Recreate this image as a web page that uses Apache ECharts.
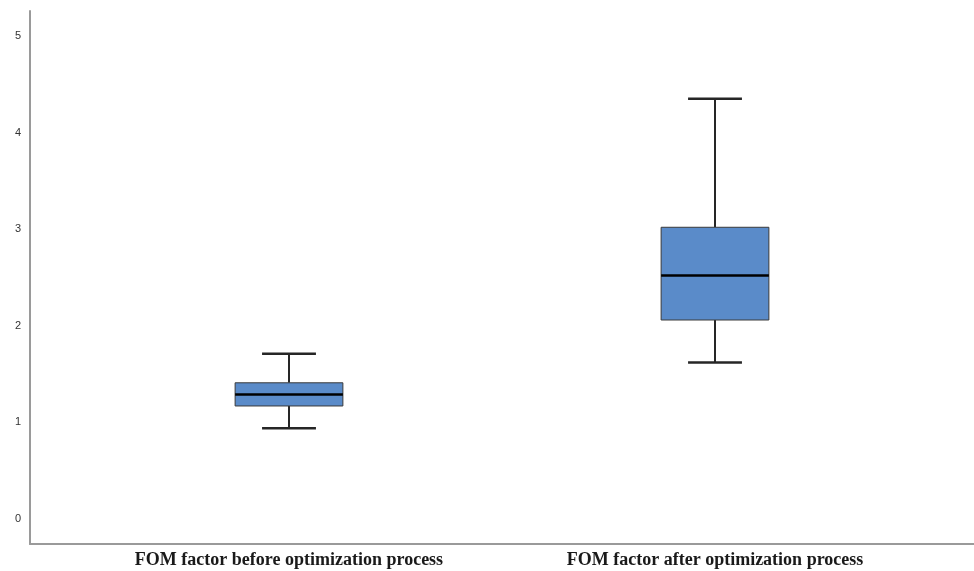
<!DOCTYPE html>
<html>
<head>
<meta charset="utf-8">
<style>html,body{margin:0;padding:0;background:#fff;}#main{width:974px;height:571px;}</style>
<script src="https://cdn.jsdelivr.net/npm/echarts@6/dist/echarts.min.js"></script>
</head>
<body>
<div id="main"></div>
<script>
var categories = ['FOM factor before optimization process', 'FOM factor after optimization process'];
var minValues = [0.94, 1.62];
var q1Values = [1.17, 2.06];
var medianValues = [1.29, 2.52];
var q3Values = [1.41, 3.02];
var maxValues = [1.71, 4.35];
var yTicks = [0, 1, 2, 3, 4, 5];

var data = categories.map(function (c, i) {
  return [i, minValues[i], q1Values[i], medianValues[i], q3Values[i], maxValues[i]];
});

var chart = echarts.init(document.getElementById('main'));
chart.setOption({
  animation: false,
  backgroundColor: '#ffffff',
  grid: [
    { left: 30, right: 0, top: 11, bottom: 27 },
    { left: 76, right: 46, top: 36, bottom: 52 }
  ],
  xAxis: [
    { gridIndex: 0, type: 'category', data: ['', ''], axisLine: { lineStyle: { color: '#9a9a9a', width: 2 } },
      axisTick: { show: false }, axisLabel: { show: false }, splitLine: { show: false } },
    { gridIndex: 1, type: 'category', data: categories, offset: 25,
      axisLine: { show: false }, axisTick: { show: false }, splitLine: { show: false },
      axisLabel: { margin: 7, fontFamily: 'Liberation Serif', fontWeight: 'bold', fontSize: 18, color: '#1a1a1a' } }
  ],
  yAxis: [
    { gridIndex: 0, type: 'value', min: 0, max: 1, axisLine: { show: true, lineStyle: { color: '#9a9a9a', width: 2 } },
      axisTick: { show: false }, axisLabel: { show: false }, splitLine: { show: false } },
    { gridIndex: 1, type: 'value', min: 0, max: 5, interval: 1, offset: 46,
      axisLine: { show: false }, axisTick: { show: false }, splitLine: { show: false },
      axisLabel: { margin: 9, fontFamily: 'Liberation Sans', fontSize: 11, color: '#333',
        formatter: function (v) { return yTicks.indexOf(v) >= 0 ? String(v) : ''; } } }
  ],
  series: [{
    type: 'custom',
    xAxisIndex: 1,
    yAxisIndex: 1,
    data: data,
    encode: { x: 0, y: [1, 2, 3, 4, 5] },
    renderItem: function (params, api) {
      var idx = api.value(0);
      var bw = api.size([1, 0])[0] * 0.253;
      var capW = bw * 0.5;
      var pMin = api.coord([idx, api.value(1)]);
      var pQ1 = api.coord([idx, api.value(2)]);
      var pMed = api.coord([idx, api.value(3)]);
      var pQ3 = api.coord([idx, api.value(4)]);
      var pMax = api.coord([idx, api.value(5)]);
      var cx = pMed[0];
      var lineStyle = { stroke: '#262626', lineWidth: 2 };
      return {
        type: 'group',
        children: [
          { type: 'line', shape: { x1: cx, y1: pQ3[1], x2: cx, y2: pMax[1] }, style: lineStyle },
          { type: 'line', shape: { x1: cx, y1: pQ1[1], x2: cx, y2: pMin[1] }, style: lineStyle },
          { type: 'line', shape: { x1: cx - capW / 2, y1: pMax[1], x2: cx + capW / 2, y2: pMax[1] }, style: { stroke: '#262626', lineWidth: 2.5 } },
          { type: 'line', shape: { x1: cx - capW / 2, y1: pMin[1], x2: cx + capW / 2, y2: pMin[1] }, style: { stroke: '#262626', lineWidth: 2.5 } },
          { type: 'rect', shape: { x: cx - bw / 2, y: pQ3[1], width: bw, height: pQ1[1] - pQ3[1] },
            style: { fill: '#5a8bc9', stroke: '#3a3a3a', lineWidth: 1 } },
          { type: 'line', shape: { x1: cx - bw / 2, y1: pMed[1], x2: cx + bw / 2, y2: pMed[1] }, style: { stroke: '#000', lineWidth: 2.5 } }
        ]
      };
    }
  }]
});
</script>
</body>
</html>
